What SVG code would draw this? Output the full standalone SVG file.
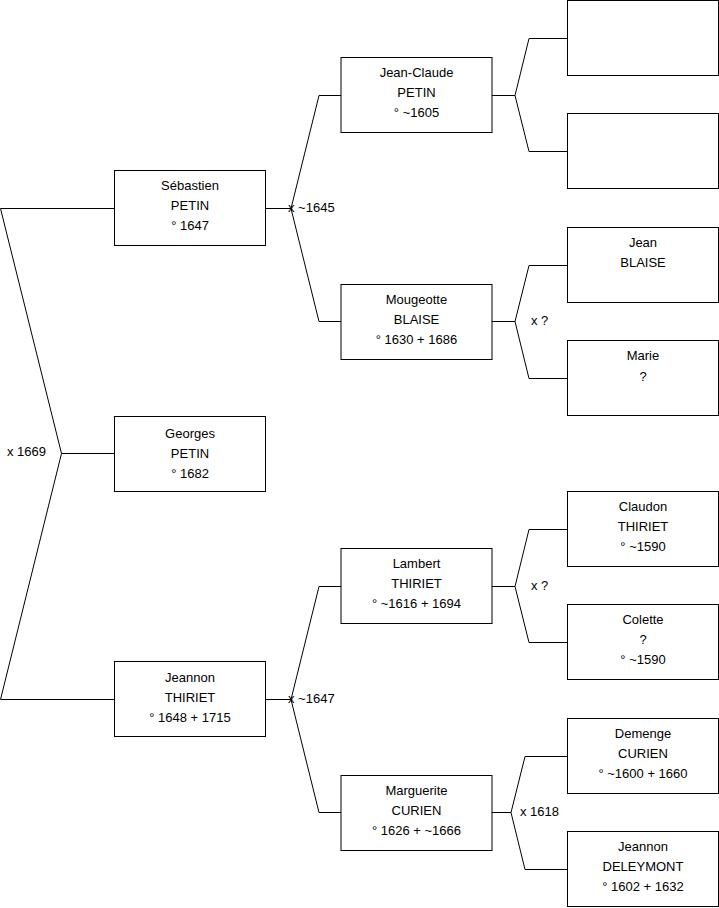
<svg xmlns="http://www.w3.org/2000/svg" width="719" height="908" viewBox="0 0 719 908">
<style>
.box{fill:#fff;stroke:#000;stroke-width:1}
.t{font-family:"Liberation Sans",Arial,sans-serif;font-size:13px;fill:#000;text-anchor:middle}
.l{font-family:"Liberation Sans",Arial,sans-serif;font-size:13px;fill:#000}
.c{fill:none;stroke:#000;stroke-width:1}
</style>
<rect width="719" height="908" fill="#fff"/>
<g id="connectors">
<polyline class="c" points="114.5,208.5 0.5,208.5 61.5,453.5 0.5,699.5 114.5,699.5"/>
<line class="c" x1="61.5" y1="453.5" x2="114.5" y2="453.5"/>
<polyline class="c" points="341,95.5 319,95.5 291,208.5 319,321.5 341,321.5"/>
<line class="c" x1="265.5" y1="208.5" x2="291" y2="208.5"/>
<polyline class="c" points="341,586.5 319,586.5 291,699.5 319,812.5 341,812.5"/>
<line class="c" x1="265.5" y1="699.5" x2="291" y2="699.5"/>
<polyline class="c" points="567.5,38.5 529,38.5 515,95.5 529,151.5 567.5,151.5"/>
<line class="c" x1="492" y1="95.5" x2="515" y2="95.5"/>
<polyline class="c" points="567.5,265.5 529,265.5 515,321.5 529,378.5 567.5,378.5"/>
<line class="c" x1="492" y1="321.5" x2="515" y2="321.5"/>
<polyline class="c" points="567.5,529.5 529,529.5 515,586.5 529,642.5 567.5,642.5"/>
<line class="c" x1="492" y1="586.5" x2="515" y2="586.5"/>
<polyline class="c" points="567.5,756.5 525,756.5 511,812.5 525,869.5 567.5,869.5"/>
<line class="c" x1="492" y1="812.5" x2="511" y2="812.5"/>
<text class="l" x="7" y="456">x 1669</text>
<text class="l" x="288" y="212">x ~1645</text>
<text class="l" x="288" y="703">x ~1647</text>
<text class="l" x="531" y="325">x ?</text>
<text class="l" x="531" y="590">x ?</text>
<text class="l" x="520" y="816">x 1618</text>
</g>
<g id="sebastien"><rect class="box" x="114.5" y="170.5" width="151" height="75"/><text class="t" x="190" y="190">Sébastien</text><text class="t" x="190" y="210">PETIN</text><text class="t" x="190" y="230">° 1647</text></g>
<g id="georges"><rect class="box" x="114.5" y="416.5" width="151" height="75"/><text class="t" x="190" y="438">Georges</text><text class="t" x="190" y="458">PETIN</text><text class="t" x="190" y="478">° 1682</text></g>
<g id="jeannon-thiriet"><rect class="box" x="114.5" y="661.5" width="151" height="75"/><text class="t" x="190" y="682">Jeannon</text><text class="t" x="190" y="702">THIRIET</text><text class="t" x="190" y="722">° 1648 + 1715</text></g>
<g id="jean-claude"><rect class="box" x="341" y="57.5" width="151" height="75"/><text class="t" x="416.5" y="77">Jean-Claude</text><text class="t" x="416.5" y="97">PETIN</text><text class="t" x="416.5" y="117">° ~1605</text></g>
<g id="mougeotte"><rect class="box" x="341" y="284.5" width="151" height="75"/><text class="t" x="416.5" y="304">Mougeotte</text><text class="t" x="416.5" y="324">BLAISE</text><text class="t" x="416.5" y="344">° 1630 + 1686</text></g>
<g id="lambert"><rect class="box" x="341" y="548.5" width="151" height="75"/><text class="t" x="416.5" y="568">Lambert</text><text class="t" x="416.5" y="588">THIRIET</text><text class="t" x="416.5" y="608">° ~1616 + 1694</text></g>
<g id="marguerite"><rect class="box" x="341" y="775.5" width="151" height="75"/><text class="t" x="416.5" y="795">Marguerite</text><text class="t" x="416.5" y="815">CURIEN</text><text class="t" x="416.5" y="835">° 1626 + ~1666</text></g>
<g id="unknown1"><rect class="box" x="567.5" y="0.5" width="151" height="75"/></g>
<g id="unknown2"><rect class="box" x="567.5" y="113.5" width="151" height="75"/></g>
<g id="jean-blaise"><rect class="box" x="567.5" y="227.5" width="151" height="75"/><text class="t" x="643" y="247">Jean</text><text class="t" x="643" y="267">BLAISE</text></g>
<g id="marie"><rect class="box" x="567.5" y="340.5" width="151" height="75"/><text class="t" x="643" y="360">Marie</text><text class="t" x="643" y="381">?</text></g>
<g id="claudon"><rect class="box" x="567.5" y="491.5" width="151" height="75"/><text class="t" x="643" y="511">Claudon</text><text class="t" x="643" y="531">THIRIET</text><text class="t" x="643" y="551">° ~1590</text></g>
<g id="colette"><rect class="box" x="567.5" y="604.5" width="151" height="75"/><text class="t" x="643" y="624">Colette</text><text class="t" x="643" y="644">?</text><text class="t" x="643" y="664">° ~1590</text></g>
<g id="demenge"><rect class="box" x="567.5" y="718.5" width="151" height="75"/><text class="t" x="643" y="738">Demenge</text><text class="t" x="643" y="758">CURIEN</text><text class="t" x="643" y="778">° ~1600 + 1660</text></g>
<g id="jeannon-deleymont"><rect class="box" x="567.5" y="831.5" width="151" height="75"/><text class="t" x="643" y="851">Jeannon</text><text class="t" x="643" y="871">DELEYMONT</text><text class="t" x="643" y="891">° 1602 + 1632</text></g>
</svg>
